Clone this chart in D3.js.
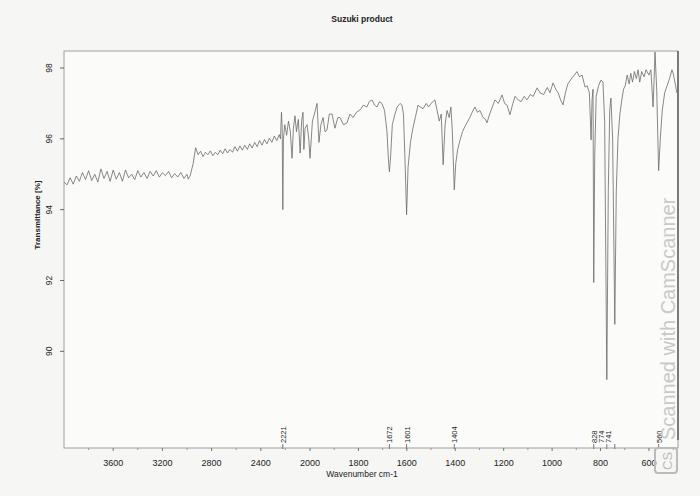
<!DOCTYPE html>
<html lang="en">
  <head>
    <meta charset="UTF-8" />
    <script src="https://d3js.org/d3.v7.min.js"></script>
    <title>Suzuki product</title>
    <style>
      body { margin: 0; background: #f6f6f4; }
      text { font-family: "Liberation Sans", Arial, sans-serif; fill: #222; }
    </style>
  </head>
  <body>
    <svg id="ir" width="700" height="496"></svg>

    <script>
      // spectrum (wavenumber cm-1 / transmittance %)
      const wavenumbers = [
        4000, 3975, 3950, 3925, 3900, 3875, 3850, 3825, 3800, 3775, 3750, 3725, 3700, 3675, 3650, 3625,
        3600, 3575, 3550, 3525, 3500, 3475, 3450, 3425, 3400, 3375, 3350, 3325, 3300, 3275, 3250, 3225,
        3200, 3175, 3150, 3125, 3100, 3075, 3050, 3025, 3000, 2990, 2975,
        2950, 2930, 2910, 2890, 2870, 2850, 2830, 2810, 2790, 2770, 2750, 2730, 2710, 2690, 2670, 2650,
        2630, 2610, 2590, 2570, 2550, 2530, 2510, 2490, 2470, 2450, 2430, 2410, 2390, 2370, 2350, 2330,
        2310, 2290, 2270, 2250, 2240, 2232, 2226, 2221, 2216, 2205, 2190, 2175, 2160, 2146, 2135, 2122,
        2110, 2095, 2080, 2068, 2057, 2050, 2040, 2024, 2010, 2000, 1990, 1978, 1971, 1963, 1955, 1946,
        1938, 1930, 1920, 1909, 1897, 1885, 1876, 1862, 1847, 1835, 1822, 1808, 1793, 1780, 1765, 1755,
        1744, 1733, 1723, 1713, 1703, 1692, 1682, 1676, 1672, 1667, 1660, 1649, 1640, 1628, 1620, 1614,
        1608, 1601, 1595, 1585, 1575, 1565, 1554, 1545, 1533, 1520, 1510, 1500, 1484, 1475, 1466, 1458,
        1450, 1442, 1434, 1425, 1418, 1412, 1404, 1398, 1390, 1380, 1370, 1360, 1352, 1340, 1330, 1319,
        1308, 1298, 1285, 1275, 1269, 1258, 1247, 1236, 1222, 1207, 1196, 1186, 1174, 1164, 1153, 1140,
        1128, 1115, 1104, 1090, 1078, 1062, 1050, 1035, 1020, 1009, 996, 985, 975, 965, 955, 945,
        935, 918, 908, 897, 887, 876, 864, 855, 846, 839, 835, 831, 828, 824, 818, 808,
        798, 790, 783, 774, 768, 762, 757, 750, 741, 735, 728, 720, 712, 705, 698, 690,
        682, 675, 668, 660, 652, 645, 638, 630, 620, 612, 600, 592, 583, 578, 575, 568,
        560, 553, 545, 535, 525, 515, 505, 500, 490, 485
      ];
      const transmittance = [
        94.78, 94.70, 94.90, 94.72, 94.95, 94.80, 95.05, 94.85, 95.10, 94.82, 95.00, 94.78, 95.15, 94.88, 95.08, 94.80,
        95.12, 94.86, 95.05, 94.80, 95.12, 94.90, 95.00, 94.85, 95.10, 94.92, 95.05, 94.88, 95.08, 94.95, 95.10, 94.92,
        95.04, 94.96, 95.08, 94.90, 95.02, 94.92, 95.05, 94.88, 95.00, 94.86, 94.95,
        95.30, 95.75, 95.55, 95.65, 95.50, 95.62, 95.55, 95.66, 95.52, 95.62, 95.55, 95.68, 95.58, 95.72, 95.60, 95.70,
        95.62, 95.78, 95.65, 95.80, 95.68, 95.82, 95.70, 95.86, 95.74, 95.90, 95.78, 95.95, 95.82, 95.98, 95.86, 96.02,
        95.90, 96.08, 95.95, 96.12, 96.00, 96.75, 96.30, 94.00, 96.00, 96.40, 96.10, 96.50, 96.20, 95.45, 96.30, 96.65,
        96.20, 96.55, 95.60, 96.50, 96.75, 95.70, 96.30, 96.40, 96.00, 95.45, 96.50, 96.80, 97.00, 95.90, 96.40, 96.60,
        96.20, 96.25, 96.70, 96.70, 96.30, 96.60, 96.60, 96.40, 96.45, 96.70, 96.60, 96.75, 96.82, 96.95, 96.90, 97.05,
        97.10, 96.95, 96.90, 97.05, 97.00, 96.80, 96.20, 95.40, 95.07, 95.50, 96.40, 96.70, 96.90, 97.00, 96.95, 96.70,
        95.50, 93.86, 95.20, 95.90, 96.30, 96.60, 96.95, 96.90, 96.85, 97.00, 96.90, 97.00, 97.10, 96.80, 96.50, 96.70,
        95.27, 96.40, 96.80, 96.60, 96.90, 96.20, 94.56, 95.30, 95.70, 95.97, 96.20, 96.35, 96.45, 96.60, 96.75, 96.90,
        96.75, 96.80, 96.60, 96.55, 96.45, 96.70, 96.90, 97.10, 97.00, 97.24, 97.00, 96.95, 96.68, 96.95, 97.20, 97.10,
        97.05, 97.20, 97.10, 97.25, 97.20, 97.44, 97.30, 97.25, 97.45, 97.30, 97.58, 97.40, 97.30, 97.10, 96.96, 97.30,
        97.55, 97.72, 97.80, 97.90, 97.75, 97.80, 97.46, 97.50, 97.30, 95.97, 97.10, 97.40, 91.94, 95.50, 97.20, 97.50,
        97.66, 97.60, 96.50, 89.20, 94.50, 96.80, 97.15, 96.00, 90.76, 94.50, 96.00, 96.70, 97.10, 97.40, 97.50, 97.80,
        97.55, 97.85, 97.60, 97.90, 97.70, 97.95, 97.60, 97.90, 97.75, 97.95, 97.80, 97.95, 96.90, 97.80, 98.45, 97.40,
        95.10, 96.00, 96.80, 97.30, 97.50, 97.70, 97.95, 97.85, 97.50, 97.30
      ];

      // picked peaks and where their labels sit
      const peakLabels = ["2221", "1672", "1601", "1404", "828", "774", "741", "560"];
      const peakLabelPos = [2221, 1672, 1601, 1404, 828, 798, 770, 560];

      const xTicks = [3600, 3200, 2800, 2400, 2000, 1800, 1600, 1400, 1200, 1000, 800, 600];
      const xMinor = [3800, 3400, 3000, 2600, 2200, 1900, 1700, 1500, 1300, 1100, 900, 700, 500];
      const yTicks = [90, 92, 94, 96, 98];

      const svg = d3.select("#ir");
      const plotL = 64, plotR = 678, plotT = 51, plotB = 448;

      // two-part scale: compressed above 2000 cm-1
      const x = d3.scaleLinear().domain([4000, 2000, 480]).range([plotL, 310, plotR]);
      const y = d3.scaleLinear().domain([87.27, 98.48]).range([plotB, plotT]);

      svg.append("rect").attr("width", 700).attr("height", 496).attr("fill", "#f6f6f4");

      svg.append("text")
        .attr("x", 362).attr("y", 22)
        .attr("text-anchor", "middle")
        .attr("font-size", 8.5).attr("font-weight", "bold")
        .text("Suzuki product");

      // frame
      svg.append("rect")
        .attr("x", plotL).attr("y", plotT)
        .attr("width", plotR - plotL).attr("height", plotB - plotT)
        .attr("fill", "#fbfbfa").attr("stroke", "#8a8a8a").attr("stroke-width", 0.8);
      svg.append("line")
        .attr("x1", plotR).attr("x2", plotR).attr("y1", plotT).attr("y2", plotB - 8)
        .attr("stroke", "#444").attr("stroke-width", 1.2);

      // y axis
      const yg = svg.append("g");
      yg.selectAll("line").data(yTicks).enter().append("line")
        .attr("x1", plotL - 4).attr("x2", plotL)
        .attr("y1", d => y(d)).attr("y2", d => y(d))
        .attr("stroke", "#666");
      yg.selectAll("text").data(yTicks).enter().append("text")
        .attr("transform", d => `translate(52,${y(d)}) rotate(-90)`)
        .attr("text-anchor", "middle")
        .attr("font-size", 8.5)
        .text(d => d);
      svg.append("text")
        .attr("transform", `translate(40,215) rotate(-90)`)
        .attr("text-anchor", "middle")
        .attr("font-size", 8).attr("font-weight", "bold")
        .text("Transmittance [%]");

      // x axis
      const xg = svg.append("g");
      xg.selectAll("line.maj").data(xTicks).enter().append("line")
        .attr("x1", d => x(d)).attr("x2", d => x(d))
        .attr("y1", plotB).attr("y2", plotB + 3)
        .attr("stroke", "#777");
      xg.selectAll("line.min").data(xMinor).enter().append("line")
        .attr("x1", d => x(d)).attr("x2", d => x(d))
        .attr("y1", plotB).attr("y2", plotB + 2)
        .attr("stroke", "#999");
      xg.selectAll("text").data(xTicks).enter().append("text")
        .attr("x", d => x(d)).attr("y", 466)
        .attr("text-anchor", "middle")
        .attr("font-size", 9)
        .text(d => d);
      svg.append("text")
        .attr("x", 362).attr("y", 477)
        .attr("text-anchor", "middle")
        .attr("font-size", 8.5)
        .text("Wavenumber cm-1");

      // spectrum
      svg.append("clipPath").attr("id", "plotclip")
        .append("rect").attr("x", plotL).attr("y", plotT - 1)
        .attr("width", plotR - plotL).attr("height", plotB - plotT + 1);

      const spectrum = wavenumbers.map((w, i) => [w, transmittance[i]]);
      svg.append("path")
        .datum(spectrum)
        .attr("clip-path", "url(#plotclip)")
        .attr("fill", "none")
        .attr("stroke", "#6a6a6a")
        .attr("stroke-width", 0.8)
        .attr("d", d3.line().x(d => x(d[0])).y(d => y(d[1])));

      // peak labels
      const pg = svg.append("g");
      pg.selectAll("line").data(peakLabels).enter().append("line")
        .attr("x1", d => x(+d)).attr("x2", d => x(+d))
        .attr("y1", plotB - 4).attr("y2", plotB + 1)
        .attr("stroke", "#777");
      pg.selectAll("text").data(peakLabels).enter().append("text")
        .attr("transform", (d, i) => `translate(${x(peakLabelPos[i]) + 3},${plotB - 5}) rotate(-90)`)
        .attr("font-size", 7.5)
        .text(d => d);

      // scanner watermark
      svg.append("text")
        .attr("transform", "translate(675,440) rotate(-90)")
        .attr("font-size", 20)
        .style("fill", "#c9c9c9")
        .text("Scanned with CamScanner");
      svg.append("rect")
        .attr("x", 655).attr("y", 448).attr("width", 22).attr("height", 25).attr("rx", 3)
        .attr("fill", "none").attr("stroke", "#bbb").attr("stroke-width", 2);
      svg.append("text")
        .attr("transform", "translate(672,470) rotate(-90)")
        .attr("font-size", 13)
        .style("fill", "#bbb")
        .text("CS");
    </script>
  </body>
</html>
